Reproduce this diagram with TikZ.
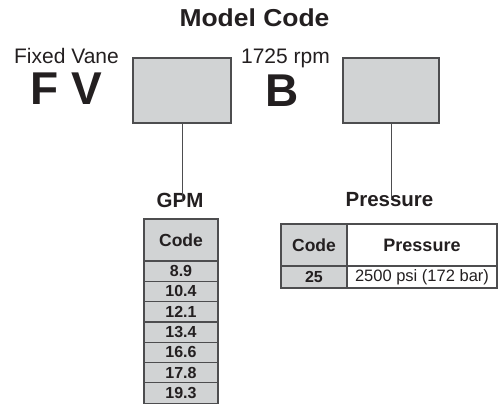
\documentclass[tikz,border=0pt]{standalone}
\usepackage{fontspec}
\setmainfont{Liberation Sans}
\definecolor{boxfill}{HTML}{D1D3D4}
\definecolor{linec}{HTML}{4D4D4F}
\definecolor{txtc}{HTML}{231F20}
\newcommand\wtxt[1]{\scalebox{1.08}[1]{#1}}
\newcommand\fs[1]{\fontsize{#1}{#1}\selectfont}
\begin{document}
\begin{tikzpicture}[x=1pt,y=-1pt,
  every node/.style={text=txtc, inner sep=0pt},
  codebox/.style={draw=linec, fill=boxfill, line width=1.3pt},
  cell/.style={draw=linec, line width=1.2pt, anchor=center},
  grey/.style={fill=boxfill},
  conn/.style={draw=linec, line width=1pt}]
\useasboundingbox (0,0) rectangle (499,404);
% title
\node[anchor=base] (title) at (254.5,27) {\fs{24.5}\bfseries\wtxt{Model Code}};
% left part
\node[anchor=base] (fixed) at (66.5,64) {\fs{21}Fixed Vane};
\node[anchor=base] (fv) at (66.5,105) {\fs{46}\bfseries F V};
\node[codebox, minimum width=98pt, minimum height=65pt] (b1) at (182,90.5) {};
\node[anchor=base] (rpm) at (285.5,63.5) {\fs{21}1725 rpm};
\node[anchor=base] (bb) at (282,107) {\fs{46}\bfseries B};
\node[codebox, minimum width=96pt, minimum height=65pt] (b2) at (391,90.5) {};
% labels
\node[anchor=base] (gpm) at (180,207.5) {\fs{20.5}\bfseries GPM};
\node[anchor=base] (pres) at (389.5,206.5) {\fs{20.5}\bfseries Pressure};
\draw[conn] (b1.south) -- ([yshift=-8pt]b1.south |- gpm.north);
\draw[conn] (b2.south) -- ([yshift=-8pt]b2.south |- pres.north);
% GPM table
\node[cell, grey, minimum width=74pt, minimum height=42pt] (gh) at (181,240) {\fs{17.5}\bfseries Code};
\foreach \v [count=\i from 0] in {8.9,10.4,12.1,13.4,16.6,17.8,19.3}{
  \node[cell, grey, minimum width=74pt, minimum height=20.3pt] (g\i) at (181,{271.15+20.3*\i}) {\fs{16}\bfseries \v};
}
% Pressure table
\node[cell, grey, minimum width=66pt, minimum height=42pt] (ph1) at (314,245) {\fs{17.5}\bfseries Code};
\node[cell, minimum width=150pt, minimum height=42pt] (ph2) at (422,245) {\fs{18}\bfseries Pressure};
\node[cell, grey, minimum width=66pt, minimum height=22pt] (pr1) at (314,277) {\fs{16}\bfseries 25};
\node[cell, minimum width=150pt, minimum height=22pt] (pr2) at (422,277) {\fs{16.5}2500 psi (172 bar)};
\end{tikzpicture}
\end{document}
